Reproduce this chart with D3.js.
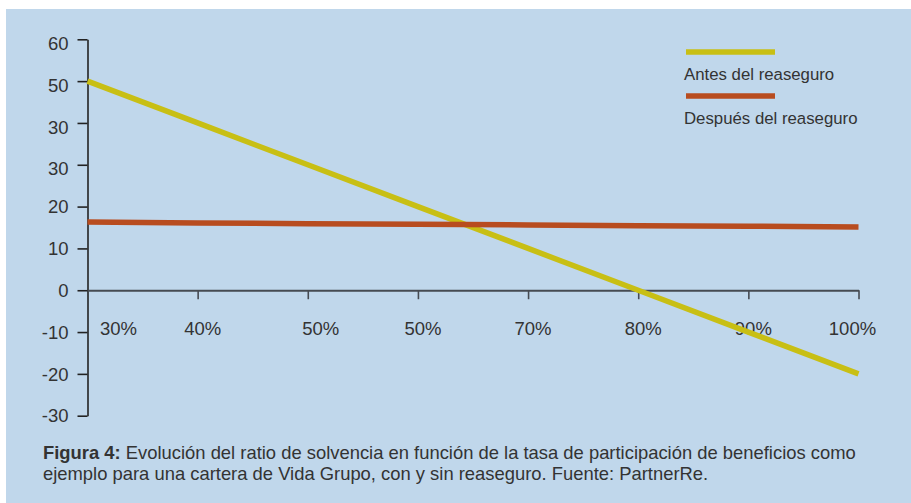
<!DOCTYPE html>
<html lang="es">

  <head>
    <meta charset="UTF-8">
    <title>Figura 4</title>
    <script src="https://d3js.org/d3.v7.min.js"></script>
    <style>
      body {
        margin: 0;
        background: #fff;
      }

      text {
        font-family: "Liberation Sans", Arial, sans-serif;
        fill: #333;
      }

      .serie {
        fill: none;
        stroke-width: 5.5;
      }

    </style>
  </head>

  <body>
    <script>
      // datos
      const tasas = [30, 40, 50, 60, 70, 80, 90, 100]
      const antes = [50, 40, 30, 20, 10, 0, -10, -20]
      const despues = [16.3, 16.1, 15.9, 15.8, 15.6, 15.4, 15.3, 15.1]
      // etiquetas tal como aparecen en la figura original
      const xEtiquetas = ["30%", "40%", "50%", "50%", "70%", "80%", "90%", "100%"]
      const yTicks = [60, 50, 40, 30, 20, 10, 0, -10, -20, -30]
      const yEtiquetas = ["60", "50", "30", "30", "20", "10", "0", "-10", "-20", "-30"]
      const series = ["Antes del reaseguro", "Después del reaseguro"]
      const colores = ["#c8bf14", "#b84c1f"]
      const pie1 = "Evolución del ratio de solvencia en función de la tasa de participación de beneficios como"
      const pie2 = "ejemplo para una cartera de Vida Grupo, con y sin reaseguro. Fuente: PartnerRe."

      const W = 911, H = 503

      const svg = d3.select("body").append("svg")
        .attr("width", W)
        .attr("height", H)

      // fondo azul
      svg.append("rect")
        .attr("x", 6).attr("y", 9)
        .attr("width", W - 6).attr("height", H - 9)
        .attr("fill", "#c0d7eb")

      const x = d3.scaleLinear().domain([30, 100]).range([87.5, 858.5])
      const y = d3.scaleLinear().domain([-30, 60]).range([415.7, 39.3])

      // eje Y
      const ejeY = svg.append("g")
        .attr("transform", `translate(${x(30)},0)`)
        .call(d3.axisLeft(y).tickValues(yTicks)
          .tickFormat((d, i) => yEtiquetas[i])
          .tickSize(10).tickSizeOuter(0).tickPadding(9))
      ejeY.select(".domain").attr("stroke", "#222").attr("stroke-width", 1.6)
      ejeY.selectAll(".tick line").attr("stroke", "#222").attr("stroke-width", 1.6)
      ejeY.selectAll(".tick text")
        .style("font-size", "18.5px")
        .attr("dy", d => d > 20 ? "0.55em" : "0.34em")
        .attr("fill", "#333")

      // eje X sobre el cero
      const ejeX = svg.append("g")
        .attr("transform", `translate(0,${y(0)})`)
        .call(d3.axisBottom(x).tickValues(tasas.slice(1))
          .tickFormat("").tickSize(9).tickSizeOuter(0))
      ejeX.select(".domain").attr("stroke", "#464b52").attr("stroke-width", 2.2)
      ejeX.selectAll(".tick line").attr("stroke", "#464b52").attr("stroke-width", 1.6)

      // etiquetas del eje X (desplazadas a mano como en el original)
      const desplaza = i => i === 0 ? 31 : i === 2 ? 13 : i === tasas.length - 1 ? -6 : 5
      svg.append("g").selectAll("text")
        .data(tasas)
        .join("text")
        .attr("x", (d, i) => x(d) + desplaza(i))
        .attr("y", y(0) + 45)
        .attr("text-anchor", "middle")
        .style("font-size", "18.5px")
        .text((d, i) => xEtiquetas[i])

      const linea = d3.line()
        .x((d, i) => x(tasas[i]))
        .y(d => y(d))

      svg.append("path")
        .datum(antes)
        .attr("class", "serie")
        .attr("stroke", colores[0])
        .attr("d", linea)

      svg.append("path")
        .datum(despues)
        .attr("class", "serie")
        .attr("stroke", colores[1])
        .attr("stroke-width", 6)
        .attr("d", linea)

      // leyenda
      const leyenda = svg.append("g")
        .selectAll("g")
        .data(series)
        .join("g")
        .attr("transform", (d, i) => `translate(686,${52 + i * 44})`)
      leyenda.append("line")
        .attr("x1", 0).attr("x2", 89)
        .attr("stroke", (d, i) => colores[i])
        .attr("stroke-width", 5.5)
      leyenda.append("text")
        .attr("x", -2).attr("y", 28)
        .style("font-size", "16.8px")
        .text(d => d)

      // pie de figura
      const pie = svg.append("text")
        .attr("x", 43).attr("y", 459)
        .style("font-size", "18.4px")
        .attr("fill", "#222")
      pie.append("tspan").attr("font-weight", "bold").text("Figura 4:")
      pie.append("tspan").text(" " + pie1)
      svg.append("text")
        .attr("x", 43).attr("y", 480)
        .style("font-size", "18.4px")
        .attr("fill", "#222")
        .text(pie2)
    </script>
  </body>

</html>
